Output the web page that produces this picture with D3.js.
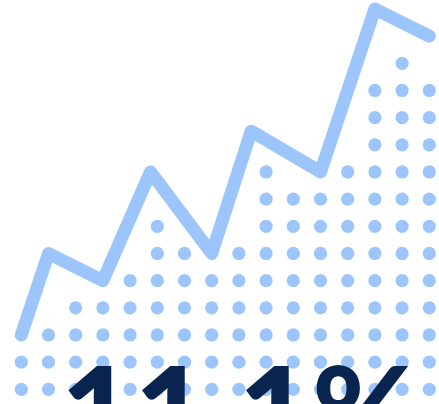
<!DOCTYPE html>
<html>
<head>
<meta charset="utf-8">
<script src="https://cdn.jsdelivr.net/npm/d3@7"></script>
<style>
  html, body { margin: 0; padding: 0; background: #fff; overflow: hidden; }
  svg { display: block; }
</style>
</head>
<body>
<svg id="chart" width="439" height="404"></svg>
<script>
// Dot-column heights (number of dots per column)
const dotColumns = [2, 3, 4, 4, 5, 7, 6, 5, 6, 9, 8, 8, 9, 12, 13, 12];
// Trend line (x in column units, y in row units)
const lineX = [0, 1, 3, 4.75, 7, 8.45, 11, 13, 15];
const lineY = [2, 5, 4, 8, 5, 9.5, 8, 14, 13];
// Headline label
const headline = ["11.1%"];

const W = 439, H = 404;
const blue = "#9cc5fb";
const navy = "#08244f";

const svg = d3.select("#chart");

const x = d3.scaleLinear().domain([0, 15]).range([21.3, 429.3]);
const y = d3.scaleLinear().domain([0, 12]).range([389.3, 63.3]);

// dots
const dots = [];
dotColumns.forEach((n, i) => {
  for (let k = 0; k < n; k++) dots.push({ c: i, r: k });
});
svg.append("g").selectAll("circle").data(dots).join("circle")
  .attr("cx", d => x(d.c))
  .attr("cy", d => y(d.r))
  .attr("r", 6.6)
  .attr("fill", blue);

// line
const pts = lineX.map((v, i) => [v, lineY[i]]);
const line = d3.line().x(d => x(d[0])).y(d => y(d[1]));
svg.append("path")
  .datum(pts)
  .attr("d", line)
  .attr("fill", "none")
  .attr("stroke", blue)
  .attr("stroke-width", 13)
  .attr("stroke-linejoin", "round")
  .attr("stroke-linecap", "round");

// headline
svg.append("g").selectAll("text").data(headline).join("text")
  .attr("x", 239)
  .attr("y", 459)
  .attr("text-anchor", "middle")
  .attr("font-family", "Lato, Inter, 'Open Sans', sans-serif")
  .attr("font-weight", 900)
  .attr("font-size", 127)
  .attr("fill", navy)
  .text(d => d);
</script>
</body>
</html>
